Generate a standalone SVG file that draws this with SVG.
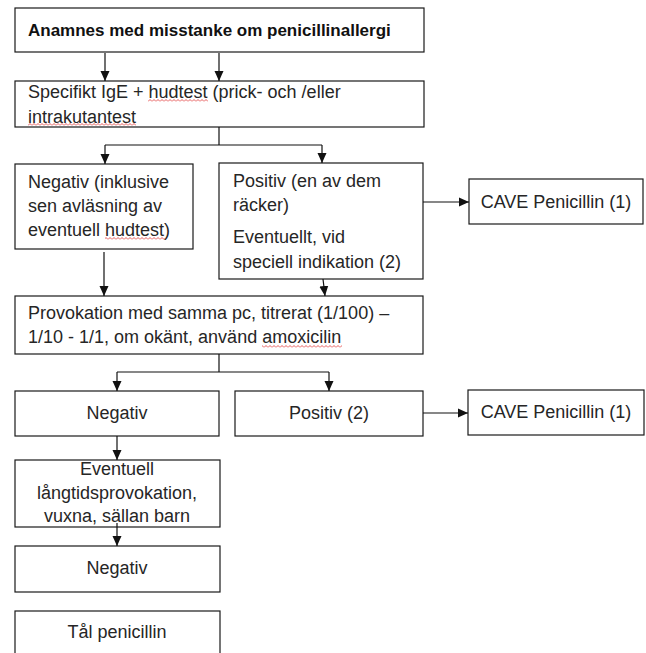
<svg xmlns="http://www.w3.org/2000/svg" width="646" height="653" viewBox="0 0 646 653">
<style>
.box{fill:#fff;stroke:#1a1a1a;stroke-width:1.2}
.t{font-family:"Liberation Sans",Arial,sans-serif;font-size:18px;fill:#262626}
.b{font-weight:bold;font-size:17px;fill:#111}
.c{text-anchor:middle}
.con path{fill:none;stroke:#111;stroke-width:1.2}
.sq{fill:url(#wave)}
</style>
<defs>
<marker id="ah" markerUnits="userSpaceOnUse" markerWidth="10" markerHeight="10" refX="10" refY="5" orient="auto">
<path d="M0,0.5 L10,5 L0,9.5 z" fill="#111"/>
</marker>
<pattern id="wave" patternUnits="userSpaceOnUse" width="4" height="3">
<path d="M0,2.5 L2,0.5 L4,2.5" fill="none" stroke="#e03030" stroke-width="0.8"/>
</pattern>
</defs>
<rect width="646" height="653" fill="#fff"/>

<g id="n1"><rect class="box" x="15" y="8" width="409" height="44"/><text class="t b" x="28" y="36">Anamnes med misstanke om penicillinallergi</text></g>

<g id="n2"><rect class="box" x="15" y="81" width="409" height="46"/>
<text class="t" x="28" y="98">Specifikt IgE + hudtest (prick- och /eller</text>
<text class="t" x="28" y="123">intrakutantest</text>
<rect class="sq" x="148" y="99" width="60" height="3"/>
<rect class="sq" x="28" y="123" width="108" height="3"/></g>

<g id="n3"><rect class="box" x="15" y="164" width="178" height="85"/>
<text class="t" x="28" y="188">Negativ (inklusive</text>
<text class="t" x="28" y="212">sen avläsning av</text>
<text class="t" x="28" y="236">eventuell hudtest)</text>
<rect class="sq" x="105" y="237" width="60" height="3"/></g>

<g id="n4"><rect class="box" x="219" y="163" width="204" height="116"/>
<text class="t" x="233" y="187">Positiv (en av dem</text>
<text class="t" x="233" y="211">räcker)</text>
<text class="t" x="233" y="243">Eventuellt, vid</text>
<text class="t" x="233" y="268">speciell indikation (2)</text></g>

<g id="n5"><rect class="box" x="469" y="179" width="174" height="45"/><text class="t c" x="556" y="208">CAVE Penicillin (1)</text></g>

<g id="n6"><rect class="box" x="15" y="296" width="408" height="58"/>
<text class="t" x="28" y="319">Provokation med samma pc, titrerat (1/100) –</text>
<text class="t" x="28" y="343">1/10 - 1/1, om okänt, använd amoxicilin</text>
<rect class="sq" x="262" y="345" width="80" height="3"/></g>

<g id="n7"><rect class="box" x="15" y="391" width="204" height="45"/><text class="t c" x="117" y="419">Negativ</text></g>

<g id="n8"><rect class="box" x="235" y="391" width="188" height="45"/><text class="t c" x="329" y="419">Positiv (2)</text></g>

<g id="n9"><rect class="box" x="468" y="390" width="176" height="45"/><text class="t c" x="556" y="418">CAVE Penicillin (1)</text></g>

<g id="n10"><rect class="box" x="15" y="460" width="205" height="67"/>
<text class="t c" x="117" y="475">Eventuell</text>
<text class="t c" x="117" y="499">långtidsprovokation,</text>
<text class="t c" x="117" y="522">vuxna, sällan barn</text></g>

<g id="n11"><rect class="box" x="15" y="546" width="205" height="46"/><text class="t c" x="117" y="574">Negativ</text></g>

<g id="n12"><rect class="box" x="15" y="611" width="205" height="50"/><text class="t c" x="117" y="638">Tål penicillin</text></g>

<g id="connectors" class="con">
<path d="M105,53 V81" marker-end="url(#ah)"/>
<path d="M219,53 V81" marker-end="url(#ah)"/>
<path d="M219,127 V145 M105,145 H322"/>
<path d="M105,145 V164" marker-end="url(#ah)"/>
<path d="M322,145 V163" marker-end="url(#ah)"/>
<path d="M423,202 H469" marker-end="url(#ah)"/>
<path d="M104,252 V296" marker-end="url(#ah)"/>
<path d="M323,279 L325,296" marker-end="url(#ah)"/>
<path d="M219,354 V372 M117,372 H329"/>
<path d="M117,372 V391" marker-end="url(#ah)"/>
<path d="M329,372 V391" marker-end="url(#ah)"/>
<path d="M423,413 H468" marker-end="url(#ah)"/>
<path d="M117,436 V460" marker-end="url(#ah)"/>
<path d="M117,523 V546" marker-end="url(#ah)"/>
</g>
</svg>
